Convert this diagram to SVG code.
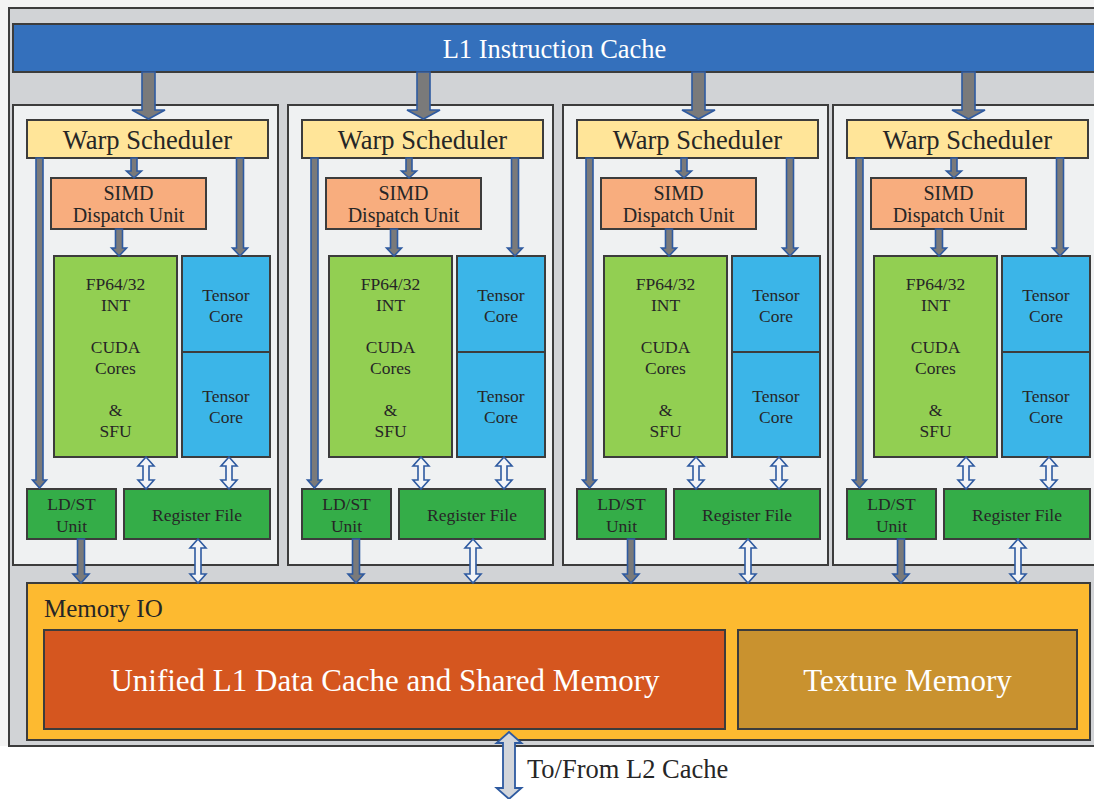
<svg xmlns="http://www.w3.org/2000/svg" xmlns:xlink="http://www.w3.org/1999/xlink" width="1094" height="799" viewBox="0 0 1094 799" font-family="'Liberation Serif', 'DejaVu Serif', serif">
<style>
.box{stroke:#3c3c3c;stroke-width:2}
.outer{fill:#d1d3d6}
.l1{fill:#3470bc}
.panel{fill:#eff1f2}
.ws{fill:#ffe599}
.simd{fill:#f8ad7e}
.fp{fill:#92cf52}
.tc{fill:#3bb5e8}
.grn{fill:#34ad48}
.mio{fill:#fdba30}
.uni{fill:#d5561f}
.tex{fill:#c9922f}
text{font-family:'Liberation Serif', 'DejaVu Serif', serif;text-anchor:middle;fill:#262626}
.t26{font-size:26.5px}
.t20{font-size:20px}
.t17{font-size:17.5px}
.tw{fill:#ffffff;font-size:31px}
.solid{fill:#7a7a7a;stroke:#2e5aa0;stroke-width:1.6;stroke-linejoin:miter}
.hollow{fill:#f2f4f7;stroke:#2e5aa0;stroke-width:1.6;stroke-linejoin:miter}
.hollowg{fill:#d3d6db;stroke:#2e5aa0;stroke-width:1.8;stroke-linejoin:miter}
</style>
<defs>
<path id="bigArrow" d="M-6.5,0 V38 H-16.5 L0,47 L16.5,38 H6.5 V0 Z"/>
<g id="panelArrows">
<path class="solid" d="M36,158 V480 H32.5 L39.5,488 L46.5,480 H43 V158 Z"/>
<path class="solid" d="M131,158 V171 H126.5 L134,178 L141.5,171 H137 V158 Z"/>
<path class="solid" d="M115.5,229 V248 H111.5 L119,256 L126.5,248 H122.5 V229 Z"/>
<path class="solid" d="M236.5,158 V248 H232.5 L240,256 L247.5,248 H243.5 V158 Z"/>
<path class="solid" d="M77.5,539 V574 H73 L81,583 L89,574 H84.5 V539 Z"/>
<path class="hollow" d="M146,457 L154,466 H149 V480 H154 L146,489 L138,480 H143 V466 H138 Z"/>
<path class="hollow" d="M229,457 L237,466 H232 V480 H237 L229,489 L221,480 H226 V466 H221 Z"/>
<path class="hollow" d="M198,539 L206,548 H201 V574 H206 L198,583 L190,574 H195 V548 H190 Z"/>
</g>
</defs>
<rect x="0" y="0" width="1094" height="799" fill="#ffffff"/>
<rect x="0" y="0" width="1094" height="8" fill="#f3f3f3"/>
<rect x="0" y="0" width="8" height="746" fill="#f3f3f3"/>

<g id="sm-outer">
<rect class="box outer" x="9" y="8" width="1095" height="738"/>
</g>

<g id="l1-icache">
<rect class="box l1" x="13" y="24" width="1090" height="48"/>
<text x="554.5" y="58" class="t26" style="fill:#ffffff">L1 Instruction Cache</text>
</g>

<g id="sm1" transform="translate(0,0)">
<rect class="box panel" x="13" y="105" width="265" height="460"/>
<g id="ws1"><rect class="box ws" x="27" y="120" width="241" height="38"/><text class="t26" x="147.5" y="149">Warp Scheduler</text></g>
<g id="simd1"><rect class="box simd" x="51" y="178" width="155" height="51"/><text class="t20" x="128.5" y="200">SIMD</text><text class="t20" x="128.5" y="222">Dispatch Unit</text></g>
<g id="fp1"><rect class="box fp" x="54" y="256" width="123" height="201"/><text class="t17" x="115.5" y="290">FP64/32</text><text class="t17" x="115.5" y="311">INT</text><text class="t17" x="115.5" y="353">CUDA</text><text class="t17" x="115.5" y="374">Cores</text><text class="t17" x="115.5" y="416">&amp;</text><text class="t17" x="115.5" y="437">SFU</text></g>
<g id="tc1a"><rect class="box tc" x="182" y="256" width="88" height="96"/><text class="t17" x="226" y="301">Tensor</text><text class="t17" x="226" y="322">Core</text></g>
<g id="tc1b"><rect class="box tc" x="182" y="352" width="88" height="105"/><text class="t17" x="226" y="402">Tensor</text><text class="t17" x="226" y="423">Core</text></g>
<g id="ldst1"><rect class="box grn" x="27" y="489" width="89" height="50"/><text class="t17" x="71.5" y="510">LD/ST</text><text class="t17" x="71.5" y="532">Unit</text></g>
<g id="rf1"><rect class="box grn" x="124" y="489" width="146" height="50"/><text class="t17" x="197" y="521">Register File</text></g>
</g>

<g id="sm2" transform="translate(275,0)">
<rect class="box panel" x="13" y="105" width="265" height="460"/>
<g id="ws2"><rect class="box ws" x="27" y="120" width="241" height="38"/><text class="t26" x="147.5" y="149">Warp Scheduler</text></g>
<g id="simd2"><rect class="box simd" x="51" y="178" width="155" height="51"/><text class="t20" x="128.5" y="200">SIMD</text><text class="t20" x="128.5" y="222">Dispatch Unit</text></g>
<g id="fp2"><rect class="box fp" x="54" y="256" width="123" height="201"/><text class="t17" x="115.5" y="290">FP64/32</text><text class="t17" x="115.5" y="311">INT</text><text class="t17" x="115.5" y="353">CUDA</text><text class="t17" x="115.5" y="374">Cores</text><text class="t17" x="115.5" y="416">&amp;</text><text class="t17" x="115.5" y="437">SFU</text></g>
<g id="tc2a"><rect class="box tc" x="182" y="256" width="88" height="96"/><text class="t17" x="226" y="301">Tensor</text><text class="t17" x="226" y="322">Core</text></g>
<g id="tc2b"><rect class="box tc" x="182" y="352" width="88" height="105"/><text class="t17" x="226" y="402">Tensor</text><text class="t17" x="226" y="423">Core</text></g>
<g id="ldst2"><rect class="box grn" x="27" y="489" width="89" height="50"/><text class="t17" x="71.5" y="510">LD/ST</text><text class="t17" x="71.5" y="532">Unit</text></g>
<g id="rf2"><rect class="box grn" x="124" y="489" width="146" height="50"/><text class="t17" x="197" y="521">Register File</text></g>
</g>

<g id="sm3" transform="translate(550,0)">
<rect class="box panel" x="13" y="105" width="265" height="460"/>
<g id="ws3"><rect class="box ws" x="27" y="120" width="241" height="38"/><text class="t26" x="147.5" y="149">Warp Scheduler</text></g>
<g id="simd3"><rect class="box simd" x="51" y="178" width="155" height="51"/><text class="t20" x="128.5" y="200">SIMD</text><text class="t20" x="128.5" y="222">Dispatch Unit</text></g>
<g id="fp3"><rect class="box fp" x="54" y="256" width="123" height="201"/><text class="t17" x="115.5" y="290">FP64/32</text><text class="t17" x="115.5" y="311">INT</text><text class="t17" x="115.5" y="353">CUDA</text><text class="t17" x="115.5" y="374">Cores</text><text class="t17" x="115.5" y="416">&amp;</text><text class="t17" x="115.5" y="437">SFU</text></g>
<g id="tc3a"><rect class="box tc" x="182" y="256" width="88" height="96"/><text class="t17" x="226" y="301">Tensor</text><text class="t17" x="226" y="322">Core</text></g>
<g id="tc3b"><rect class="box tc" x="182" y="352" width="88" height="105"/><text class="t17" x="226" y="402">Tensor</text><text class="t17" x="226" y="423">Core</text></g>
<g id="ldst3"><rect class="box grn" x="27" y="489" width="89" height="50"/><text class="t17" x="71.5" y="510">LD/ST</text><text class="t17" x="71.5" y="532">Unit</text></g>
<g id="rf3"><rect class="box grn" x="124" y="489" width="146" height="50"/><text class="t17" x="197" y="521">Register File</text></g>
</g>

<g id="sm4" transform="translate(820,0)">
<rect class="box panel" x="13" y="105" width="265" height="460"/>
<g id="ws4"><rect class="box ws" x="27" y="120" width="241" height="38"/><text class="t26" x="147.5" y="149">Warp Scheduler</text></g>
<g id="simd4"><rect class="box simd" x="51" y="178" width="155" height="51"/><text class="t20" x="128.5" y="200">SIMD</text><text class="t20" x="128.5" y="222">Dispatch Unit</text></g>
<g id="fp4"><rect class="box fp" x="54" y="256" width="123" height="201"/><text class="t17" x="115.5" y="290">FP64/32</text><text class="t17" x="115.5" y="311">INT</text><text class="t17" x="115.5" y="353">CUDA</text><text class="t17" x="115.5" y="374">Cores</text><text class="t17" x="115.5" y="416">&amp;</text><text class="t17" x="115.5" y="437">SFU</text></g>
<g id="tc4a"><rect class="box tc" x="182" y="256" width="88" height="96"/><text class="t17" x="226" y="301">Tensor</text><text class="t17" x="226" y="322">Core</text></g>
<g id="tc4b"><rect class="box tc" x="182" y="352" width="88" height="105"/><text class="t17" x="226" y="402">Tensor</text><text class="t17" x="226" y="423">Core</text></g>
<g id="ldst4"><rect class="box grn" x="27" y="489" width="89" height="50"/><text class="t17" x="71.5" y="510">LD/ST</text><text class="t17" x="71.5" y="532">Unit</text></g>
<g id="rf4"><rect class="box grn" x="124" y="489" width="146" height="50"/><text class="t17" x="197" y="521">Register File</text></g>
</g>

<g id="memory-io">
<rect class="box mio" x="27" y="583" width="1063" height="157"/>
<text x="44" y="617" style="text-anchor:start;font-size:25px">Memory IO</text>
</g>
<g id="unified-l1">
<rect class="box uni" x="44" y="630" width="681" height="99"/>
<text class="tw" x="385" y="691">Unified L1 Data Cache and Shared Memory</text>
</g>
<g id="texture-memory">
<rect class="box tex" x="738" y="630" width="339" height="99"/>
<text class="tw" x="907.5" y="691">Texture Memory</text>
</g>
<g id="l2-label">
<text x="527" y="778" class="t26" style="text-anchor:start">To/From L2 Cache</text>
</g>

<g id="connectors">
<use xlink:href="#bigArrow" class="solid" x="148.5" y="72"/>
<use xlink:href="#bigArrow" class="solid" x="423.5" y="72"/>
<use xlink:href="#bigArrow" class="solid" x="698.5" y="72"/>
<use xlink:href="#bigArrow" class="solid" x="968.5" y="72"/>
<use xlink:href="#panelArrows" x="0" y="0"/>
<use xlink:href="#panelArrows" x="275" y="0"/>
<use xlink:href="#panelArrows" x="550" y="0"/>
<use xlink:href="#panelArrows" x="820" y="0"/>
<path class="hollowg" d="M509,732 L521.5,743 H515 V788 H521.5 L509,799 L496.5,788 H503 V743 H496.5 Z"/>
</g>
</svg>
